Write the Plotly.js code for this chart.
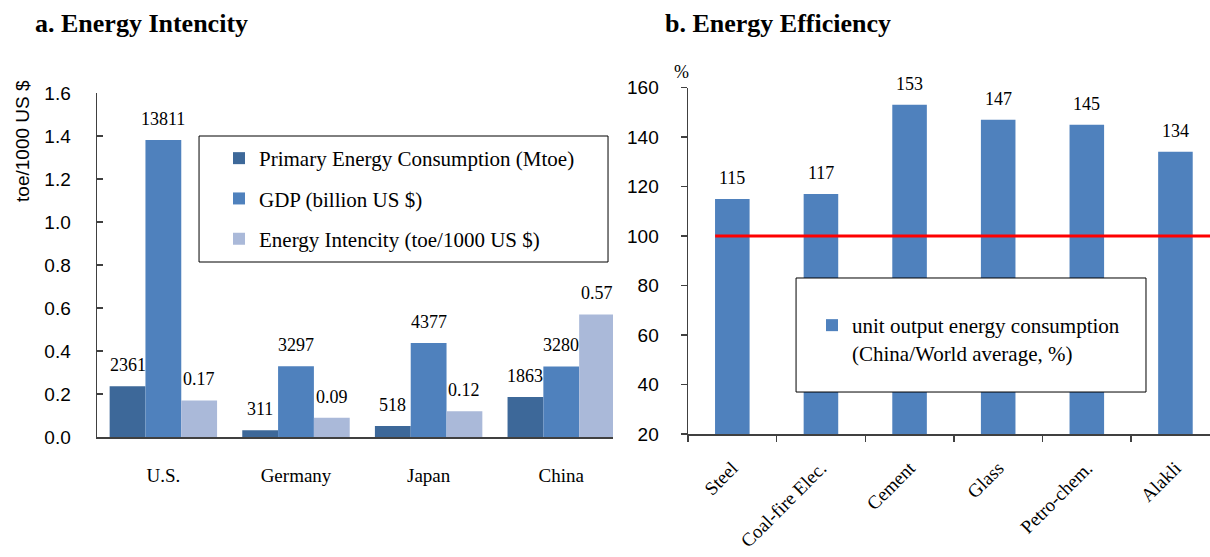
<!DOCTYPE html>
<html>
<head>
<meta charset="utf-8">
<script src="https://cdn.plot.ly/plotly-3.0.1.min.js"></script>
<style>
  html, body { margin: 0; padding: 0; background: #ffffff; }
  #chart { width: 1210px; height: 557px; }
</style>
</head>
<body>
<div id="chart"></div>
<script>
// ---- a. Energy intensity by country ----
const countries = ['U.S.', 'Germany', 'Japan', 'China'];
const primaryEnergyMtoe = [2361, 311, 518, 1863];
const gdpBillionUSD = [13811, 3297, 4377, 3280];
const energyIntensity = [0.17, 0.09, 0.12, 0.57];
const intensityTicks = [0, 0.2, 0.4, 0.6, 0.8, 1.0, 1.2, 1.4, 1.6];
// Mtoe and GDP are drawn on the toe/1000 US$ axis after dividing by this factor
const sharedAxisScale = 10000;

// ---- b. Energy efficiency by industry ----
const industries = ['Steel', 'Coal-fire Elec.', 'Cement', 'Glass', 'Petro-chem.', 'Alakli'];
const unitConsumptionPct = [115, 117, 153, 147, 145, 134];
const worldAverage = 100;
const efficiencyTicks = [20, 40, 60, 80, 100, 120, 140, 160];

const SERIF = 'Liberation Serif, Times New Roman, serif';
const SANS = 'Liberation Sans, Arial, sans-serif';
const AXIS = '#404040';
const COLORS = { primary: '#3D6899', gdp: '#4F81BD', intensity: '#AAB9D9' };

const leftSeries = [
  { name: 'Primary Energy Consumption (Mtoe)', values: primaryEnergyMtoe, scale: sharedAxisScale, color: COLORS.primary, fmt: v => String(v) },
  { name: 'GDP (billion US $)', values: gdpBillionUSD, scale: sharedAxisScale, color: COLORS.gdp, fmt: v => String(v) },
  { name: 'Energy Intencity (toe/1000 US $)', values: energyIntensity, scale: 1, color: COLORS.intensity, fmt: v => v.toFixed(2) }
];

const barGap = 0.19;
const barWidth = (1 - barGap) / leftSeries.length;

const traces = leftSeries.map((s, k) => ({
  type: 'bar',
  x: countries,
  y: s.values.map(v => v / s.scale),
  name: s.name,
  marker: { color: s.color, line: { width: 0 } },
  xaxis: 'x', yaxis: 'y',
  legend: 'legend',
  legendgroup: 'g' + k
}));

traces.push({
  type: 'bar',
  x: industries,
  y: unitConsumptionPct,
  width: 0.39,
  name: 'unit output energy consumption<br>(China/World average, %)',
  marker: { color: COLORS.gdp, line: { width: 0 } },
  xaxis: 'x2', yaxis: 'y2',
  legend: 'legend2'
});

const annotations = [];
// value labels over the grouped bars
leftSeries.forEach((s, k) => {
  s.values.forEach((v, i) => {
    annotations.push({
      xref: 'x', yref: 'y',
      x: i + (k - (leftSeries.length - 1) / 2) * barWidth,
      y: v / s.scale,
      text: s.fmt(v),
      showarrow: false,
      yanchor: 'middle', yshift: 21,
      font: { family: SERIF, size: 18, color: '#000' }
    });
  });
});
// value labels over the industry bars
unitConsumptionPct.forEach((v, i) => {
  annotations.push({
    xref: 'x2', yref: 'y2', x: i, y: v,
    text: String(v), showarrow: false,
    yanchor: 'middle', yshift: 21,
    font: { family: SERIF, size: 18, color: '#000' }
  });
});
// panel titles and axis captions
annotations.push(
  { xref: 'paper', yref: 'paper', x: 0.0273, y: 0.957, xanchor: 'left', yanchor: 'middle',
    text: 'a. Energy Intencity', showarrow: false,
    font: { family: SERIF, size: 26, color: '#000', weight: 'bold' } },
  { xref: 'paper', yref: 'paper', x: 0.548, y: 0.957, xanchor: 'left', yanchor: 'middle',
    text: 'b. Energy Efficiency', showarrow: false,
    font: { family: SERIF, size: 26, color: '#000', weight: 'bold' } },
  { xref: 'paper', yref: 'paper', x: 0.019, y: 0.747, xanchor: 'center', yanchor: 'middle',
    text: 'toe/1000 US $', textangle: -90, showarrow: false,
    font: { family: SANS, size: 19, color: '#000' } },
  { xref: 'paper', yref: 'paper', x: 0.563, y: 0.871, xanchor: 'center', yanchor: 'middle',
    text: '%', showarrow: false,
    font: { family: SERIF, size: 18, color: '#000' } }
);

const shapes = [
  // world average reference line
  { type: 'line', xref: 'x2 domain', yref: 'y2', x0: 0.052, x1: 1, y0: worldAverage, y1: worldAverage,
    line: { color: '#FF0000', width: 3 }, layer: 'above' },
  // legend frames
  { type: 'rect', xref: 'paper', yref: 'paper', x0: 0.1645, x1: 0.5025, y0: 1 - 262 / 557, y1: 1 - 136 / 557,
    fillcolor: '#ffffff', line: { color: '#000', width: 1 }, layer: 'above' },
  { type: 'rect', xref: 'paper', yref: 'paper', x0: 0.6579, x1: 0.9471, y0: 0.2962, y1: 0.5009,
    fillcolor: '#ffffff', line: { color: '#000', width: 1 }, layer: 'above' }
];

const layout = {
  width: 1210, height: 557,
  margin: { l: 0, r: 0, t: 0, b: 0 },
  paper_bgcolor: '#ffffff', plot_bgcolor: 'rgba(0,0,0,0)',
  barmode: 'group', bargap: barGap, bargroupgap: 0,
  font: { family: SERIF, size: 19, color: '#000' },
  showlegend: true,
  xaxis: {
    domain: [0.0802, 0.5066], anchor: 'y', type: 'category', range: [-0.5, 3.39],
    showline: true, linecolor: AXIS, linewidth: 1.5, ticks: '', showgrid: false, zeroline: false,
    ticklabelstandoff: 21, tickfont: { family: SERIF, size: 19, color: '#000' }
  },
  yaxis: {
    domain: [0.2154, 0.833], anchor: 'x', range: [0, 1.6], tickvals: intensityTicks, tickformat: '.1f',
    showline: true, linecolor: AXIS, linewidth: 1.5, ticks: 'inside', ticklen: 6, tickcolor: AXIS, tickwidth: 1.5,
    showgrid: false, zeroline: false, ticklabelstandoff: 21,
    tickfont: { family: SANS, size: 19, color: '#000' }
  },
  xaxis2: {
    domain: [0.5686, 1], anchor: 'y2', type: 'category', range: [-0.5, 5.39],
    showline: true, linecolor: AXIS, linewidth: 1.5, ticks: 'outside', tickson: 'boundaries',
    ticklen: 6, tickcolor: AXIS, tickwidth: 1.5, tickangle: -45,
    showgrid: false, zeroline: false, ticklabelstandoff: 14,
    tickfont: { family: SERIF, size: 19, color: '#000' }
  },
  yaxis2: {
    domain: [0.2208, 0.8429], anchor: 'x2', range: [20, 160], tickvals: efficiencyTicks,
    showline: true, linecolor: AXIS, linewidth: 1.5, ticks: 'outside', ticklen: 6, tickcolor: AXIS, tickwidth: 1.5,
    showgrid: false, zeroline: false, ticklabelstandoff: 18,
    tickfont: { family: SANS, size: 19, color: '#000' }
  },
  legend: {
    x: 219 / 1210, y: 1 - 138 / 557, xanchor: 'left', yanchor: 'top',
    bgcolor: 'rgba(0,0,0,0)', borderwidth: 0, traceorder: 'grouped', tracegroupgap: 10,
    font: { family: SERIF, size: 21, color: '#000' }
  },
  legend2: {
    x: 812 / 1210, y: 1 - 305 / 557, xanchor: 'left', yanchor: 'top', valign: 'top',
    bgcolor: 'rgba(0,0,0,0)', borderwidth: 0,
    font: { family: SERIF, size: 21, color: '#000' }
  },
  annotations: annotations,
  shapes: shapes
};

Plotly.newPlot('chart', traces, layout, { staticPlot: true, displayModeBar: false });
</script>
</body>
</html>
